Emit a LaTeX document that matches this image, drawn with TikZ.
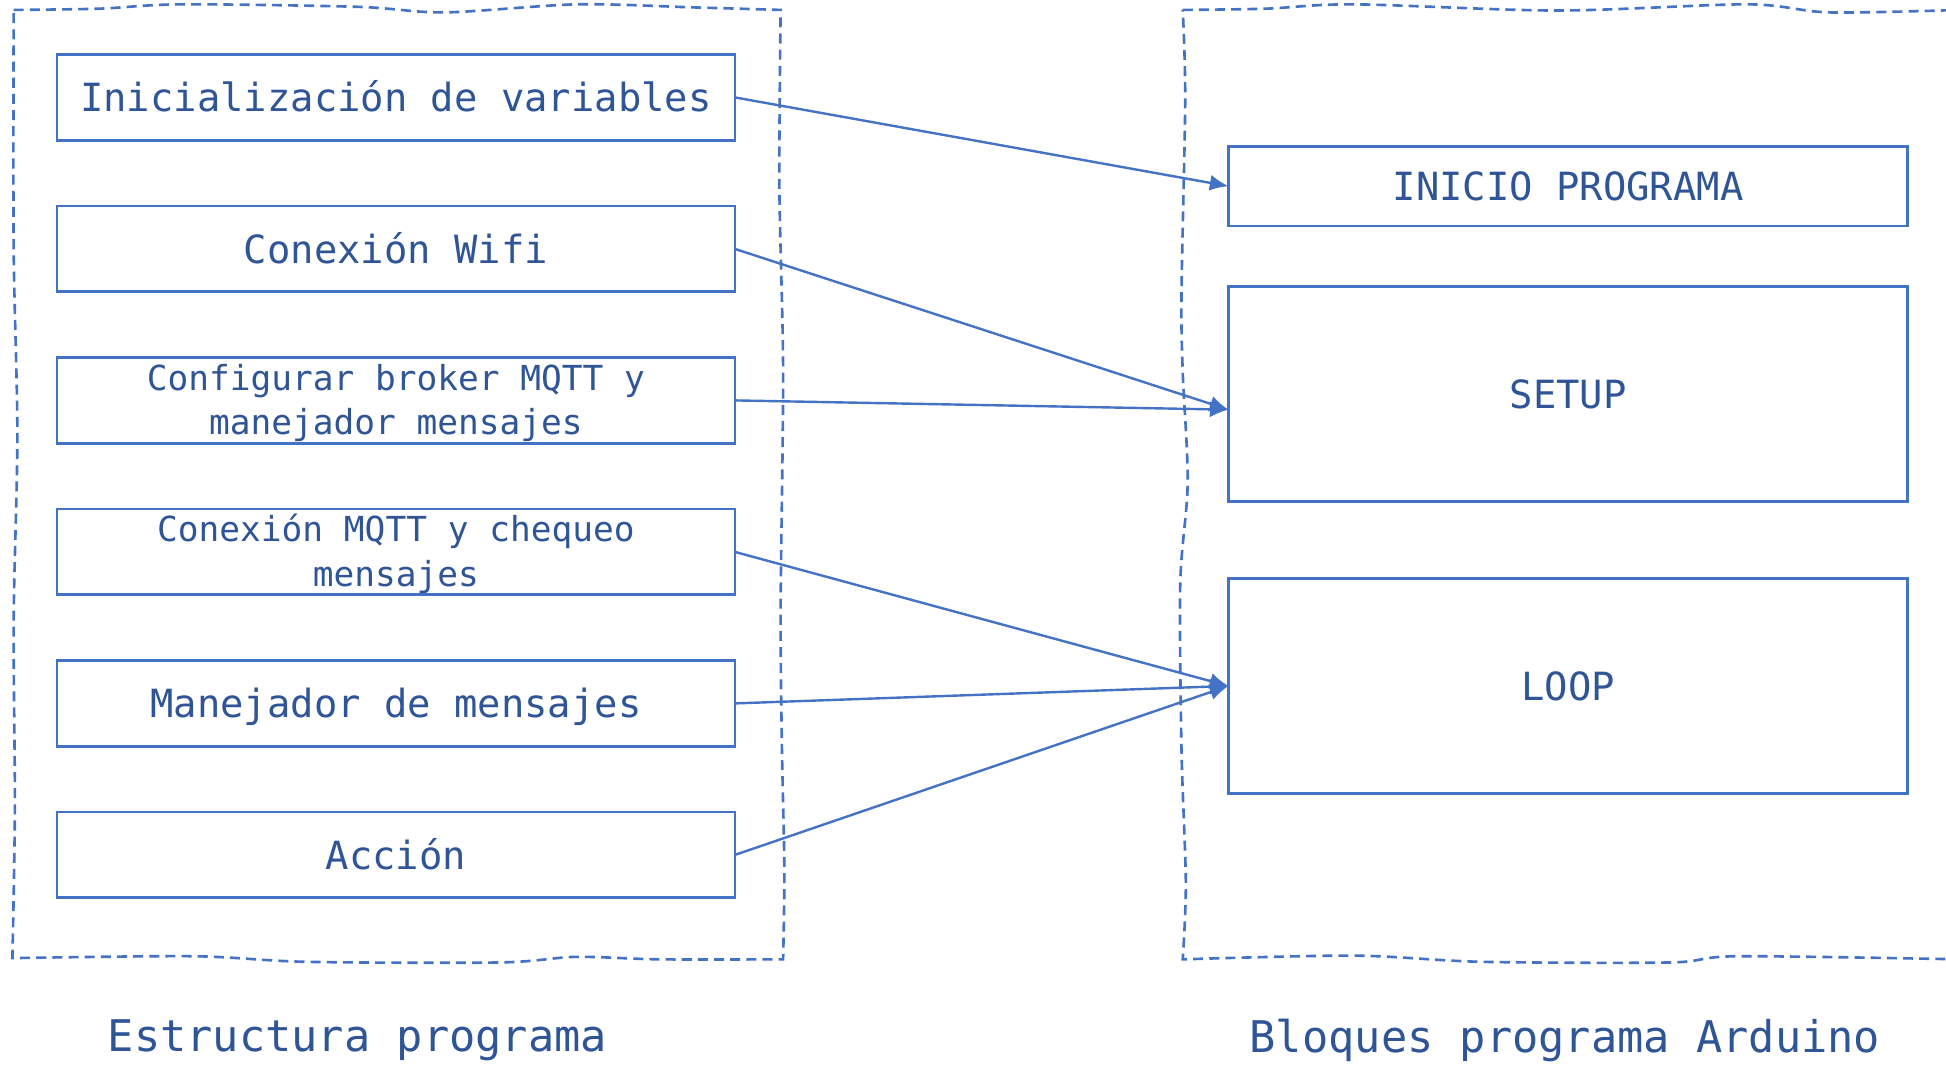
\documentclass[tikz,border=0pt]{standalone}
\usepackage{fontspec}
\setmainfont{DejaVu Sans Mono}
\usetikzlibrary{arrows.meta, positioning}
\definecolor{linea}{HTML}{4472C4}
\definecolor{texto}{HTML}{2F5597}

\begin{document}
\begin{tikzpicture}[
    x=0.01cm, y=-0.01cm,
    node distance=0.53cm,
    bloque/.style={draw=linea, line width=0.6pt, minimum width=5.46cm, minimum height=0.69cm, inner sep=0pt, outer sep=0pt, align=center, text=texto, text height=2.5mm, text depth=0.2mm, font=\fontsize{8.9}{10.7}\selectfont},
    bloquep/.style={bloque, text height=6.15mm, text depth=0.65mm, font=\fontsize{7.9}{10.2}\selectfont},
    arduino/.style={bloque, minimum width=5.47cm},
    marco/.style={draw=linea, line width=0.6pt, dash pattern=on 2.3pt off 1.4pt},
    flecha/.style={draw=linea, line width=0.55pt, -{Latex[length=1.5mm, width=1.3mm]}},
    titulo/.style={text=texto, font=\fontsize{10}{12}\selectfont}
]
\useasboundingbox (0,0) rectangle (1568,858);

% marcos punteados
\draw[marco] plot[smooth] coordinates {(11,8) (80,7) (146,3.5) (288,5.5) (358,10) (465,3.5) (560,6) (629,8)}
  -- plot[smooth] coordinates {(629,8) (628,150) (631,300) (629,490) (630,600) (632,700) (631,773)}
  -- plot[smooth] coordinates {(631,773) (531,773) (464,771) (403,775.5) (247,775) (156,770.5) (10,772)}
  -- plot[smooth] coordinates {(10,772) (12,650) (11,500) (14,350) (11,200) (11,8)};
\draw[marco] plot[smooth] coordinates {(953,8) (1020,7) (1091,3.5) (1255,8.5) (1408,3.5) (1474,10) (1580,8)}
  -- (1580,773)
  -- plot[smooth] coordinates {(1580,773) (1400,770.5) (1346,775.5) (1194,775) (1091,770) (953,773)}
  -- plot[smooth] coordinates {(953,773) (955.5,711) (952,604) (951,470) (957,389) (953,300) (952,236) (955,81) (953,8)};

% estructura programa
\node[bloque] (ini) at (319,78.5) {Inicialización de variables};
\node[bloque, below=of ini] (wifi) {Conexión Wifi};
\node[bloquep, below=of wifi] (broker) {Configurar broker MQTT y\\manejador mensajes};
\node[bloquep, below=of broker] (mqtt) {Conexión MQTT y chequeo\\mensajes};
\node[bloque, below=of mqtt] (manejador) {Manejador de mensajes};
\node[bloque, below=of manejador] (accion) {Acción};

% bloques arduino
\node[arduino, minimum height=0.64cm] (inicio) at (1263.5,150) {INICIO PROGRAMA};
\node[arduino, minimum height=1.73cm, below=0.49cm of inicio] (setup) {SETUP};
\node[arduino, minimum height=1.73cm, below=0.62cm of setup] (loop) {LOOP};
\coordinate (setupin) at ([yshift=-1.25mm]setup.west);

\draw[flecha] (ini.east) -- (inicio.west);
\draw[flecha] (wifi.east) -- (setupin);
\draw[flecha] (broker.east) -- (setupin);
\draw[flecha] (mqtt.east) -- (loop.west);
\draw[flecha] (manejador.east) -- (loop.west);
\draw[flecha] (accion.east) -- (loop.west);

\node[titulo] (lblestructura) at (288,838) {Estructura programa};
\node[titulo] (lblbloques) at (1261,838) {Bloques programa Arduino};
\end{tikzpicture}
\end{document}
